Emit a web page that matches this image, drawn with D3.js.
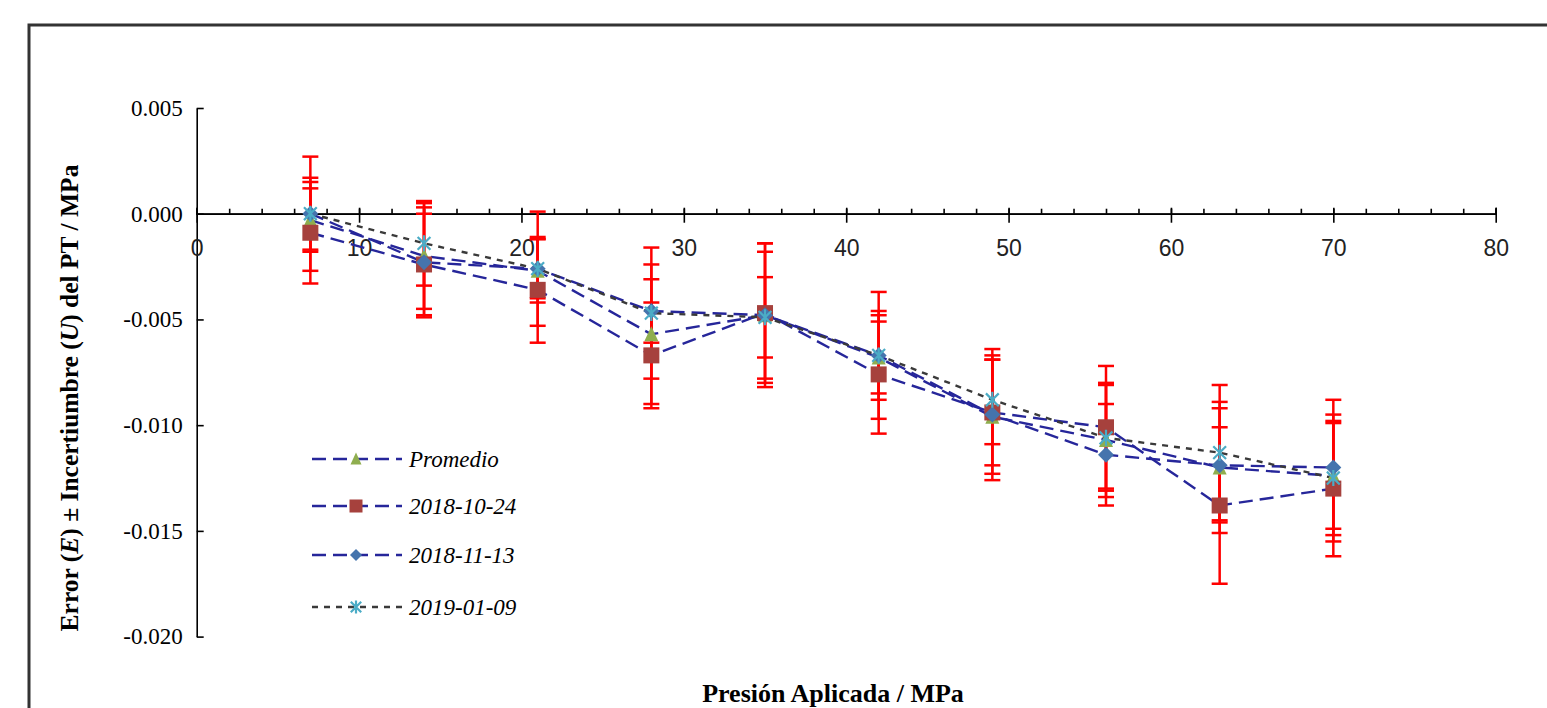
<!DOCTYPE html>
<html>
<head>
<meta charset="utf-8">
<script src="https://cdn.jsdelivr.net/npm/d3@7"></script>
<style>
  html, body { margin: 0; padding: 0; background: #fff; }
  svg { display: block; }
</style>
</head>
<body>
<svg id="chart" width="1547" height="708"></svg>
<script>
// ---------- DATA ----------
const pressure = [7, 14, 21, 28, 35, 42, 49, 56, 63, 70];

const promedio  = [-0.0003, -0.0020, -0.0027, -0.0057, -0.0048, -0.0068, -0.0096, -0.0107, -0.0120, -0.0124];
const s20181024 = [-0.0009, -0.0024, -0.0036, -0.0067, -0.0047, -0.0076, -0.0094, -0.0101, -0.0138, -0.0130];
const s20181113 = [ 0.0000, -0.0023, -0.0026, -0.0046, -0.0048, -0.0067, -0.0095, -0.0114, -0.0119, -0.0120];
const s20190109 = [ 0.0000, -0.0014, -0.0026, -0.0047, -0.0049, -0.0067, -0.0088, -0.0106, -0.0113, -0.0125];

const uPromedio  = [0.0015, 0.0025, 0.0015, 0.0033, 0.0034, 0.0017, 0.0027, 0.0027, 0.0031, 0.0025];
const u20181024  = [0.0024, 0.0024, 0.0025, 0.0025, 0.0033, 0.0028, 0.0025, 0.0029, 0.0037, 0.0032];
const u20181113  = [0.0017, 0.0026, 0.0014, 0.0015, 0.0030, 0.0021, 0.0031, 0.0024, 0.0027, 0.0032];
const u20190109  = [0.0027, 0.0020, 0.0027, 0.0031, 0.0019, 0.0030, 0.0021, 0.0025, 0.0032, 0.0030];

const seriesNames = ["Promedio", "2018-10-24", "2018-11-13", "2019-01-09"];
const xMajorTicks = [0, 10, 20, 30, 40, 50, 60, 70, 80];
const xMinorTicks = [0,2,4,6,8,10,12,14,16,18,20,22,24,26,28,30,32,34,36,38,40,42,44,46,48,50,52,54,56,58,60,62,64,66,68,70,72,74,76,78,80];
const yTicks = [0.005, 0.000, -0.005, -0.010, -0.015, -0.020];

// ---------- SETUP ----------
const svg = d3.select("#chart");
const x = d3.scaleLinear().domain([0, 80]).range([196.7, 1495.7]);
const y = d3.scaleLinear().domain([0.005, -0.020]).range([108, 636.6]);
const SERIF = "'Liberation Serif', 'Times New Roman', serif";

const series = [
  { name: seriesNames[0], vals: promedio,  u: uPromedio, line: "#26269a", dash: "14,7", marker: "triangle", color: "#8fae4f" },
  { name: seriesNames[1], vals: s20181024, u: u20181024, line: "#26269a", dash: "14,7", marker: "square",   color: "#a6413d" },
  { name: seriesNames[2], vals: s20181113, u: u20181113, line: "#26269a", dash: "14,7", marker: "diamond",  color: "#4574ad" },
  { name: seriesNames[3], vals: s20190109, u: u20190109, line: "#3a3a3a", dash: "6,6",  marker: "star",     color: "#4bacc6" }
];

// Outer frame
svg.append("path")
  .attr("d", "M29,708 L29,25 L1547,25")
  .attr("fill", "none").attr("stroke", "#333").attr("stroke-width", 3);

// ---------- AXES ----------
const yAxis = d3.axisLeft(y).tickValues(yTicks).tickSizeInner(-7).tickSizeOuter(0)
  .tickPadding(14).tickFormat(d => d.toFixed(3));
const gy = svg.append("g").attr("transform", `translate(${x(0)},0)`).call(yAxis)
  .attr("font-family", SERIF).attr("font-size", 23);
gy.selectAll("text").style("font-family", SERIF).style("font-size", "23px").attr("fill", "#000");
gy.selectAll("line, path").attr("stroke", "#000").attr("stroke-width", 1.6);

const gxMinor = svg.append("g").attr("transform", `translate(0,${y(0)})`)
  .call(d3.axisTop(x).tickValues(xMinorTicks).tickSize(5).tickFormat(""));
gxMinor.selectAll("line, path").attr("stroke", "#000").attr("stroke-width", 1.6);
const gxMajorUp = svg.append("g").attr("transform", `translate(0,${y(0)})`)
  .call(d3.axisTop(x).tickValues(xMajorTicks).tickSize(6).tickFormat(""));
gxMajorUp.selectAll("line, path").attr("stroke", "#000").attr("stroke-width", 1.6);
const gx = svg.append("g").attr("transform", `translate(0,${y(0)})`)
  .call(d3.axisBottom(x).tickValues(xMajorTicks).tickSizeInner(9).tickSizeOuter(0).tickPadding(17).tickFormat(d3.format("d")));
gx.selectAll("line, path").attr("stroke", "#000").attr("stroke-width", 1.6);
gx.selectAll("text").style("font-family", "'Liberation Sans', Arial, sans-serif")
  .style("font-size", "23px").attr("fill", "#222");

// Axis titles
const yTitle = svg.append("text")
  .attr("transform", `translate(78,${(162 + 634) / 2}) rotate(-90)`)
  .attr("text-anchor", "middle")
  .style("font-family", SERIF)
  .style("font-size", "25.5px").attr("font-weight", "bold").attr("fill", "#000");
yTitle.append("tspan").text("Error (");
yTitle.append("tspan").attr("font-style", "italic").text("E");
yTitle.append("tspan").text(")  ±  Incertiumbre (");
yTitle.append("tspan").attr("font-style", "italic").text("U");
yTitle.append("tspan").text(") del PT / MPa");

svg.append("text")
  .attr("x", 833).attr("y", 702)
  .attr("text-anchor", "middle")
  .style("font-family", SERIF)
  .style("font-size", "26px").attr("font-weight", "bold").attr("fill", "#000")
  .text("Presión Aplicada / MPa");

// ---------- ERROR BARS ----------
const gErr = svg.append("g");
series.forEach(s => {
  pressure.forEach((p, i) => {
    const cx = x(p), y1 = y(s.vals[i] + s.u[i]), y2 = y(s.vals[i] - s.u[i]);
    gErr.append("line").attr("x1", cx).attr("x2", cx).attr("y1", y1).attr("y2", y2)
      .attr("stroke", "#ff0000").attr("stroke-width", 2.5);
    [y1, y2].forEach(yy => gErr.append("line")
      .attr("x1", cx - 8).attr("x2", cx + 8).attr("y1", yy).attr("y2", yy)
      .attr("stroke", "#ff0000").attr("stroke-width", 2.5));
  });
});

// ---------- LINES ----------
const lineGen = d3.line().x(d => x(d[0])).y(d => y(d[1]));
series.forEach(s => {
  svg.append("path")
    .datum(pressure.map((p, i) => [p, s.vals[i]]))
    .attr("d", lineGen)
    .attr("fill", "none")
    .attr("stroke", s.line).attr("stroke-width", 2.4)
    .attr("stroke-dasharray", s.dash);
});

// ---------- MARKERS ----------
function drawMarker(g, type, cx, cy, size, color) {
  const h = size / 2;
  if (type === "square") {
    g.append("rect").attr("x", cx - h).attr("y", cy - h).attr("width", size).attr("height", size)
      .attr("fill", color);
  } else if (type === "triangle") {
    g.append("path").attr("d", `M${cx},${cy - h - 1} L${cx + h},${cy + h} L${cx - h},${cy + h} Z`).attr("fill", color);
  } else if (type === "diamond") {
    g.append("path").attr("d", `M${cx},${cy - h} L${cx + h},${cy} L${cx},${cy + h} L${cx - h},${cy} Z`).attr("fill", color);
  } else if (type === "star") {
    const d = h * 0.8;
    g.append("path")
      .attr("d", `M${cx},${cy - h} L${cx},${cy + h} M${cx - d},${cy - d} L${cx + d},${cy + d} M${cx - d},${cy + d} L${cx + d},${cy - d}`)
      .attr("stroke", color).attr("stroke-width", 2.2).attr("fill", "none");
  }
}
const markerSizes = { triangle: 14, square: 16, diamond: 16, star: 16 };
const gMarks = svg.append("g");
[0, 1, 2, 3].forEach(k => {
  const s = series[k];
  pressure.forEach((p, i) => drawMarker(gMarks, s.marker, x(p), y(s.vals[i]), markerSizes[s.marker], s.color));
});

// ---------- LEGEND ----------
const legendRows = [459, 506, 555, 607];
const legendMarkerSizes = { triangle: 11, square: 13, diamond: 12, star: 13 };
series.forEach((s, k) => {
  const ly = legendRows[k];
  svg.append("line").attr("x1", 312).attr("x2", 402).attr("y1", ly).attr("y2", ly)
    .attr("stroke", s.line).attr("stroke-width", 2.4).attr("stroke-dasharray", s.dash);
  drawMarker(svg, s.marker, 356, ly, legendMarkerSizes[s.marker], s.color);
  svg.append("text").attr("x", 409).attr("y", ly + 8)
    .style("font-family", SERIF)
    .style("font-size", "23px").attr("font-style", "italic").attr("fill", "#000")
    .text(s.name);
});
</script>
</body>
</html>
